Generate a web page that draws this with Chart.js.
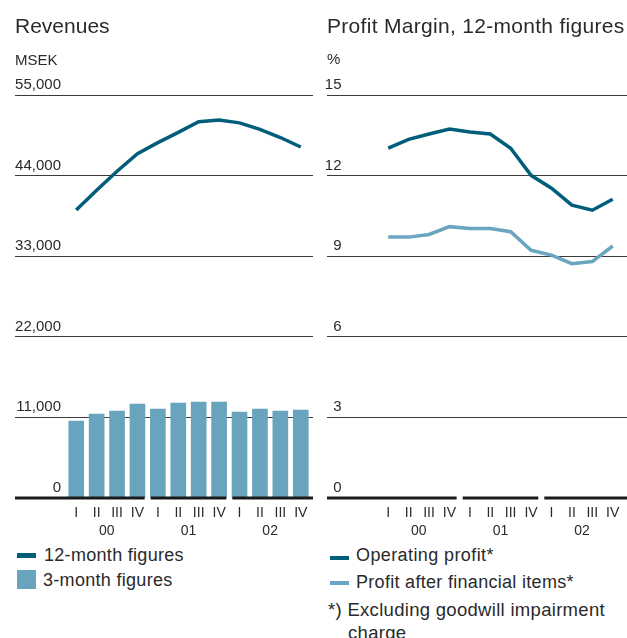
<!DOCTYPE html>
<html>
<head>
<meta charset="utf-8">
<script src="https://cdn.jsdelivr.net/npm/chart.js@4.4.0/dist/chart.umd.min.js"></script>
<style>
  html, body { margin: 0; padding: 0; background: #fff; }
  #page { position: relative; width: 627px; height: 638px; overflow: hidden; font-family: "Liberation Sans", Arial, sans-serif; color: #2a2a2a; }
  #page canvas { position: absolute; top: 0; }
  .txt { position: absolute; white-space: nowrap; line-height: 1; }
  .legend { letter-spacing: 0.3px; }
  .swatch { position: absolute; }
</style>
</head>
<body>
<div id="page">
  <canvas id="revChart" width="320" height="545" style="left:0"></canvas>
  <canvas id="marginChart" width="307" height="545" style="left:320px"></canvas>

  <div class="txt" style="left:15px;top:15px;font-size:21px">Revenues</div>
  <div class="txt" style="left:15px;top:52px;font-size:15px">MSEK</div>
  <div class="txt" style="left:327px;top:15px;font-size:21px;letter-spacing:0.3px">Profit Margin, 12-month figures</div>
  <div class="txt" style="left:327px;top:51px;font-size:15px">%</div>

  <!-- legends -->
  <div class="swatch" style="left:17px;top:553px;width:19px;height:5px;background:#005e7a"></div>
  <div class="txt legend" style="left:44px;top:546px;font-size:18px">12-month figures</div>
  <div class="swatch" style="left:17px;top:570px;width:19px;height:19px;background:#68a4bd"></div>
  <div class="txt legend" style="left:43px;top:571px;font-size:18px">3-month figures</div>

  <div class="swatch" style="left:330px;top:556px;width:19px;height:4px;background:#005e7a"></div>
  <div class="txt legend" style="left:356px;top:546px;font-size:18px;letter-spacing:0.4px">Operating profit*</div>
  <div class="swatch" style="left:330px;top:581px;width:19px;height:4px;background:#6aa6bf"></div>
  <div class="txt legend" style="left:356px;top:573px;font-size:18px">Profit after financial items*</div>
  <div class="txt legend" style="left:328px;top:601px;font-size:18.5px">*) Excluding goodwill impairment</div>
  <div class="txt legend" style="left:348px;top:624px;font-size:18.5px">charge</div>
</div>

<script>
// Data
const quarterLabels = ['I', 'II', 'III', 'IV', 'I', 'II', 'III', 'IV', 'I', 'II', 'III', 'IV'];
const yearLabels = ['00', '01', '02'];

const revenue12m = [39300, 42000, 44600, 47000, 48500, 49900, 51350, 51600, 51200, 50300, 49200, 47900];
const revenue3m = [10500, 11450, 11870, 12830, 12150, 12970, 13100, 13100, 11730, 12150, 11870, 12000];
const revenueTicks = [0, 11000, 22000, 33000, 44000, 55000];

const operatingMargin = [13.02, 13.35, 13.55, 13.73, 13.62, 13.55, 13.02, 12.01, 11.53, 10.9, 10.71, 11.12];
const financialMargin = [9.71, 9.71, 9.81, 10.1, 10.03, 10.03, 9.91, 9.22, 9.04, 8.72, 8.8, 9.38];
const marginTicks = [0, 3, 6, 9, 12, 15];

const DARK = '#005e7a';
const LIGHT = '#68a4bd';
const LIGHT_LINE = '#6aa6bf';
const TEXT = '#2a2a2a';
const FONT = '"Liberation Sans", Arial, sans-serif';

const toPoints = vals => vals.map((v, i) => ({ x: i, y: v }));

// y labels above the grid lines, broken zero line and quarter/year labels
const axisDecor = {
    id: 'axisDecor',
    afterDraw(chart, args, opts) {
        const { ctx, chartArea, scales: { x, y } } = chart;
        ctx.save();
        ctx.fillStyle = TEXT;
        ctx.textBaseline = 'alphabetic';

        ctx.font = '15px ' + FONT;
        ctx.textAlign = 'right';
        y.ticks.forEach(t => {
            ctx.fillText(opts.format(t.value), chartArea.left + opts.labelRight, y.getPixelForValue(t.value) - 6);
        });

        const y0 = y.getPixelForValue(0);
        const gap = 3;
        const edges = [chartArea.left];
        for (let k = 1; k < yearLabels.length; k++) edges.push(x.getPixelForValue(k * 4 - 0.5));
        edges.push(chartArea.right);
        ctx.strokeStyle = '#1a1a1a';
        ctx.lineWidth = 3;
        for (let k = 0; k < edges.length - 1; k++) {
            ctx.beginPath();
            ctx.moveTo(edges[k] + (k > 0 ? gap : 0), y0);
            ctx.lineTo(edges[k + 1] - (k < edges.length - 2 ? gap : 0), y0);
            ctx.stroke();
        }

        ctx.font = '14px ' + FONT;
        ctx.textAlign = 'center';
        quarterLabels.forEach((q, i) => ctx.fillText(q, x.getPixelForValue(i), y0 + 18.5));
        yearLabels.forEach((yr, k) => {
            const cx = (x.getPixelForValue(k * 4) + x.getPixelForValue(k * 4 + 3)) / 2;
            ctx.fillText(yr, cx, y0 + 37);
        });
        ctx.restore();
    }
};

function yScale(ticks) {
    return {
        min: ticks[0],
        max: ticks[ticks.length - 1],
        afterBuildTicks: s => { s.ticks = ticks.map(v => ({ value: v })); },
        afterFit: s => { s.width = 0; },
        ticks: { display: false },
        border: { display: false },
        grid: {
            drawTicks: false,
            lineWidth: 1,
            color: c => (c.tick && c.tick.value === 0) ? 'rgba(0,0,0,0)' : '#3c3c3c'
        }
    };
}

new Chart(document.getElementById('revChart'), {
    type: 'bar',
    data: {
        datasets: [{
            type: 'line',
            label: '12-month figures',
            data: toPoints(revenue12m),
            borderColor: DARK,
            borderWidth: 3.5,
            pointRadius: 0,
            tension: 0,
            order: 0
        }, {
            label: '3-month figures',
            data: toPoints(revenue3m),
            backgroundColor: LIGHT,
            barThickness: 15,
            order: 1
        }]
    },
    options: {
        responsive: false,
        animation: false,
        layout: { padding: { left: 15, right: 7, top: 95, bottom: 47 } },
        scales: {
            x: { type: 'linear', min: -3, max: 11.6, offset: false, display: false },
            y: yScale(revenueTicks)
        },
        plugins: {
            legend: { display: false },
            tooltip: { enabled: false },
            axisDecor: { labelRight: 46, format: v => v.toLocaleString('en-US') }
        }
    },
    plugins: [axisDecor]
});

new Chart(document.getElementById('marginChart'), {
    type: 'line',
    data: {
        datasets: [{
            label: 'Operating profit*',
            data: toPoints(operatingMargin),
            borderColor: DARK,
            borderWidth: 3.5,
            pointRadius: 0,
            tension: 0
        }, {
            label: 'Profit after financial items*',
            data: toPoints(financialMargin),
            borderColor: LIGHT_LINE,
            borderWidth: 3.5,
            pointRadius: 0,
            tension: 0
        }]
    },
    options: {
        responsive: false,
        animation: false,
        layout: { padding: { left: 7, right: 0, top: 95, bottom: 47 } },
        scales: {
            x: { type: 'linear', min: -3, max: 11.7, display: false },
            y: yScale(marginTicks)
        },
        plugins: {
            legend: { display: false },
            tooltip: { enabled: false },
            axisDecor: { labelRight: 14.5, format: v => String(v) }
        }
    },
    plugins: [axisDecor]
});
</script>
</body>
</html>
